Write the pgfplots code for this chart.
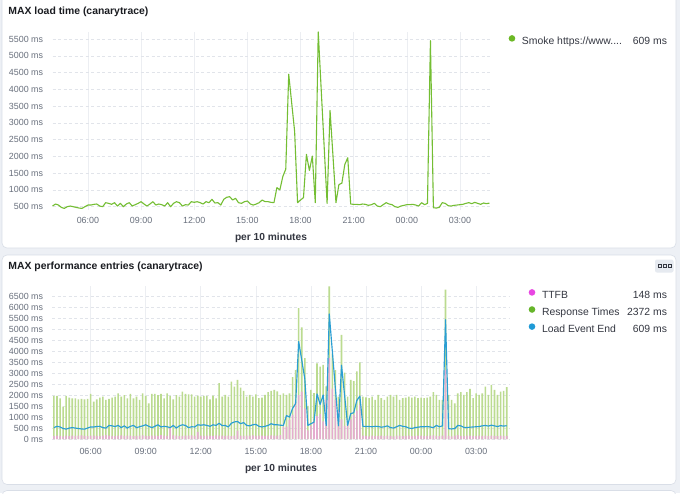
\documentclass[border=0pt]{standalone}
\usepackage{fontspec}
\setmainfont{Liberation Sans}
\usepackage{pgfplots}
\pgfplotsset{compat=1.18}
\usepackage{pgfplotstable}

\definecolor{bg}{HTML}{EDF0F5}
\definecolor{panelborder}{HTML}{D9DEE7}
\definecolor{gridh}{HTML}{E1E4EA}
\definecolor{gridv}{HTML}{ECEEF2}
\definecolor{tickcol}{HTML}{69707D}
\definecolor{titlecol}{HTML}{1A1C21}
\definecolor{labcol}{HTML}{343741}
\definecolor{smoke}{HTML}{74BE33}
\definecolor{smokedot}{HTML}{6CB825}
\definecolor{rtbar}{HTML}{BBDB90}
\definecolor{ttbar}{HTML}{E5ACCF}
\definecolor{lee}{HTML}{2A9ED4}
\definecolor{ttdot}{HTML}{E846E2}
\definecolor{rtdot}{HTML}{66B52A}
\definecolor{leedot}{HTML}{1F9AD6}
\definecolor{iconbg}{HTML}{E6EAF0}

\newcommand{\tickfont}{\fontsize{8.9pt}{10pt}\selectfont}
\newcommand{\legfont}{\fontsize{10.4pt}{12pt}\selectfont}
\newcommand{\titlefont}{\fontsize{10.4pt}{12pt}\selectfont\bfseries}

% i = 10-minute bucket since 04:00; L = load event end / max load time, R = response times, T = TTFB
\pgfplotstableread{
i L R T
0 520 1968 130
1 580 1968 150
2 550 1861 140
3 480 1480 120
4 450 1968 150
5 500 1890 130
6 520 1861 160
7 500 1861 140
8 480 1815 150
9 460 1830 170
10 450 1815 140
11 500 1830 130
12 550 2060 150
13 550 1709 160
14 570 1815 140
15 580 1890 130
16 520 1937 150
17 500 1785 180
18 620 1830 160
19 600 1890 140
20 570 1937 130
21 620 2090 150
22 520 1937 170
23 600 2010 140
24 500 1861 150
25 580 2059 160
26 620 1861 130
27 520 1937 140
28 560 1785 150
29 600 2090 170
30 650 1968 140
31 580 1632 130
32 520 2059 160
33 580 2059 150
34 650 2010 140
35 550 2059 180
36 580 1861 150
37 560 2090 140
38 520 1968 500
39 620 1815 170
40 500 2010 150
41 600 1937 130
42 650 2166 140
43 620 2059 160
44 520 2040 150
45 560 2040 170
46 550 1937 140
47 650 1985 330
48 630 1937 150
49 650 1968 140
50 620 1968 160
51 580 1815 150
52 650 1985 140
53 620 1861 170
54 720 2548 150
55 610 1938 160
56 620 2014 140
57 550 1938 150
58 720 2624 130
59 780 2395 160
60 800 2700 380
61 700 2350 150
62 750 2200 140
63 620 1938 160
64 600 2014 150
65 650 1938 170
66 670 2040 140
67 580 1862 150
68 550 1890 160
69 580 2014 140
70 620 2136 150
71 700 2200 170
72 650 2243 160
73 650 2170 150
74 630 2014 180
75 620 2090 560
76 1070 2014 560
77 1000 2090 870
78 1400 2822 1100
79 1620 3150 1700
80 4450 5980 2000
81 3600 5100 2160
82 2750 3700 1400
83 620 1510 400
84 700 2243 600
85 770 2100 800
86 2060 3460 1050
87 1580 3310 1150
88 2010 3390 800
89 620 2400 1800
90 5710 6970 3700
91 4000 3890 2300
92 2300 3150 1800
93 600 1940 1300
94 3370 4760 900
95 2000 3030 600
96 620 1940 700
97 1160 2700 900
98 1200 2640 1100
99 1760 3090 1300
100 1960 3500 1560
101 580 1940 150
102 570 1900 140
103 570 1862 120
104 560 1938 150
105 580 1785 130
106 570 2014 140
107 540 1862 160
108 560 1785 130
109 600 1938 150
110 520 2014 140
111 500 1938 120
112 560 2014 150
113 620 1785 160
114 580 1862 130
115 560 1892 140
116 500 1938 150
117 480 1892 130
118 520 1938 140
119 540 1862 160
120 560 1892 150
121 560 1862 130
122 570 1892 140
123 550 1938 150
124 520 2136 170
125 620 2014 140
126 560 1785 130
127 600 1785 150
128 5450 6820 3150
129 470 2014 140
130 460 1785 120
131 480 1633 150
132 620 2090 180
133 600 2136 140
134 530 2014 130
135 520 2136 150
136 540 2288 160
137 550 1862 140
138 560 2090 130
139 570 2014 150
140 600 2090 140
141 620 2395 160
142 590 2014 130
143 630 2472 150
144 600 2243 140
145 570 2014 130
146 610 2166 160
147 590 2197 140
148 609 2372 148
}\perf

\pgfplotsset{
  dash/.style={
    scale only axis,
    anchor=south west,
    clip=false,
    axis line style={draw=none},
    major tick length=0pt,
    xmajorgrids, ymajorgrids,
    x grid style={color=gridv, line width=0.6pt},
    y grid style={color=gridh, line width=0.6pt, dash pattern=on 3pt off 2.5pt},
    xtick={6,9,12,15,18,21,24,27},
    xticklabels={06:00,09:00,12:00,15:00,18:00,21:00,00:00,03:00},
    tick label style={font=\tickfont, text=tickcol},
    /pgf/number format/assume math mode=true,
    scaled y ticks=false,
    yticklabel={\pgfmathprintnumber[fixed,precision=0,1000 sep={}]{\tick} ms},
    yticklabel style={anchor=east, inner sep=0pt},
    xticklabel style={anchor=north, inner sep=0pt},
    legend image code/.code={\fill[#1, draw=none] (3.3pt,3.6pt) circle (3.3pt);},
    legend style={draw=none, fill=none, inner sep=0pt, outer sep=0pt,
      row sep=5.4pt, column sep=6.7pt, font=\legfont, text=labcol,
      nodes={inner sep=0pt, text height=7.5pt, text depth=2.1pt}},
    legend cell align=left,
  }
}

\begin{document}
\begin{tikzpicture}
% background and panels
\fill[bg] (0pt,0pt) rectangle (680pt,-493pt);
\filldraw[fill=white, draw=panelborder, line width=0.6pt, rounded corners=5pt] (2pt,6pt) rectangle (676pt,-248pt);
\filldraw[fill=white, draw=panelborder, line width=0.6pt, rounded corners=5pt] (2pt,-255pt) rectangle (676pt,-484.5pt);
\filldraw[fill=white, draw=panelborder, line width=0.6pt, rounded corners=5pt] (2pt,-490.5pt) rectangle (676pt,-510pt);

% titles
\node[anchor=west, inner sep=0pt, font=\titlefont, text=titlecol] at (8.3pt,-12pt) {MAX load time (canarytrace)};
\node[anchor=west, inner sep=0pt, font=\titlefont, text=titlecol] at (8.3pt,-266.5pt) {MAX performance entries (canarytrace)};

% options icon
\fill[iconbg, rounded corners=2pt] (655pt,-259.5pt) rectangle (673.5pt,-272.5pt);
\draw[labcol, line width=0.6pt] (658.4pt,-264.4pt) rectangle (661.6pt,-267.6pt);
\draw[labcol, line width=0.6pt] (663.2pt,-264.4pt) rectangle (666.4pt,-267.6pt);
\draw[labcol, line width=0.6pt] (668.0pt,-264.4pt) rectangle (671.2pt,-267.6pt);

% ---------- top chart ----------
\begin{axis}[dash,
  at={(52.5pt,-210.05pt)}, width=437pt, height=178.05pt,
  xmin=4, xmax=28.6667, ymin=400, ymax=5710,
  ytick={500,1000,...,5500},
  yticklabel style={xshift=-9.2pt},
  xticklabel style={yshift=-7.4pt},
  legend style={at={(1.0439,0.9826)}, anchor=north west},
]
\addlegendimage{fill=smokedot}
\addplot[smoke, line width=1.1pt, line join=round, forget plot] table[x expr={4+\thisrow{i}/6}, y=L] {\perf};
\legend{{\makebox[145pt][l]{Smoke https://www....\hfill 609 ms}}}
\end{axis}
\node[inner sep=0pt, font=\fontsize{10.2pt}{12pt}\selectfont\bfseries, text=labcol] at (271pt,-238pt) {per 10 minutes};

% ---------- bottom chart ----------
\begin{axis}[dash,
  at={(52.1pt,-439pt)}, width=458pt, height=152.6pt,
  xmin=3.9, xmax=28.85, ymin=0, ymax=6970,
  ytick={0,500,...,6500},
  yticklabel style={xshift=-8.8pt},
  xticklabel style={yshift=-9.5pt},
  legend style={at={(1.0406,0.9823)}, anchor=north west},
]
\addlegendimage{fill=ttdot}
\addlegendimage{fill=rtdot}
\addlegendimage{fill=leedot}
\addplot[ybar, bar width=1.6pt, bar shift=0pt, fill=rtbar, draw=none, forget plot] table[x expr={4+\thisrow{i}/6}, y=R] {\perf};
\addplot[ybar, bar width=1.6pt, bar shift=0pt, fill=ttbar, draw=none, forget plot] table[x expr={4+\thisrow{i}/6}, y=T] {\perf};
\addplot[lee, line width=1.15pt, line join=round, forget plot] table[x expr={4+\thisrow{i}/6}, y=L] {\perf};
\legend{{\makebox[125pt][l]{TTFB\hfill 148 ms}},{\makebox[125pt][l]{Response Times\hfill 2372 ms}},{\makebox[125pt][l]{Load Event End\hfill 609 ms}}}
\end{axis}
\node[inner sep=0pt, font=\fontsize{10.2pt}{12pt}\selectfont\bfseries, text=labcol] at (281pt,-469pt) {per 10 minutes};

\pgfresetboundingbox
\useasboundingbox (0pt,0pt) rectangle (680pt,-493pt);
\end{tikzpicture}
\end{document}
